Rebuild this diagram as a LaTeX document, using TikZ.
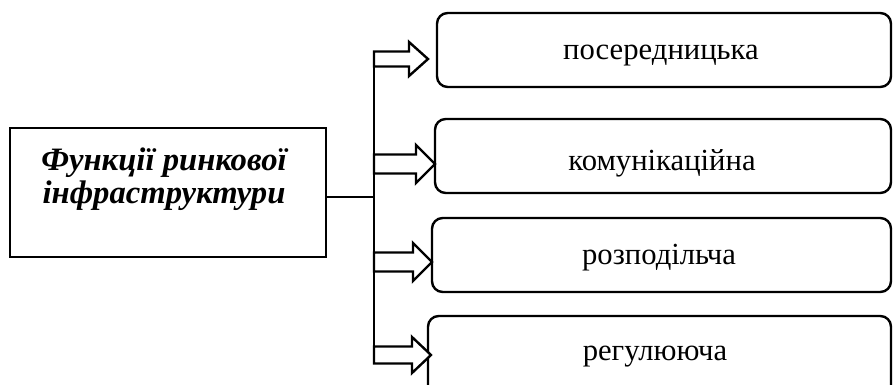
\documentclass[tikz,border=0pt]{standalone}
\usepackage{fontspec}
\setmainfont{Liberation Serif}
\begin{document}
\begin{tikzpicture}[x=0.75pt,y=-0.75pt,
  mainbox/.style={draw, line width=1.8pt, minimum width=316*0.75pt, minimum height=129*0.75pt, inner sep=0pt},
  funcbox/.style={draw, line width=1.8pt, rounded corners=8pt, inner sep=0pt},
  labeltext/.style={font=\fontsize{23}{27}\selectfont},
  titletext/.style={font=\fontsize{24.5}{25}\selectfont\bfseries\itshape, align=center},
  blockarrow/.style={draw, line width=1.8pt, fill=white, line join=miter},
  link/.style={draw, line width=0.9pt}]
\useasboundingbox (0,0) rectangle (894,385);
\clip (0,0) rectangle (894,385);
% main box
\node[mainbox] (main) at (168,192.5) {};
\node[titletext] (title) at (164,179) {Функції ринкової\\інфраструктури};
% function boxes
\draw[funcbox] (437,13) rectangle (891,87);
\node[labeltext] (b1) at (661,56) {посередницька};
\draw[funcbox] (435,119) rectangle (891,193);
\node[labeltext] (b2) at (662,163) {комунікаційна};
\draw[funcbox] (432,218) rectangle (891,292);
\node[labeltext] (b3) at (659,258) {розподільча};
\draw[funcbox] (428,316) rectangle (891,400);
\node[labeltext] (b4) at (655,357) {регулююча};
% connectors
\coordinate (j) at (374,197);
\coordinate (top) at (374,52);
\coordinate (bot) at (374,355);
\draw[link] (main.east |- j) -- (j);
\draw[link] (top) -- (bot);
% block arrows
\foreach \yc/\tip/\sh/\hh in {59/428/7.5/17, 164/435/9.5/19, 262/432/9.5/19, 355/431/8.5/18}{
  \draw[blockarrow] (374,\yc-\sh) -- (\tip-19,\yc-\sh) -- (\tip-19,\yc-\hh) -- (\tip,\yc)
     -- (\tip-19,\yc+\hh) -- (\tip-19,\yc+\sh) -- (374,\yc+\sh) -- cycle;
}
\end{tikzpicture}
\end{document}
